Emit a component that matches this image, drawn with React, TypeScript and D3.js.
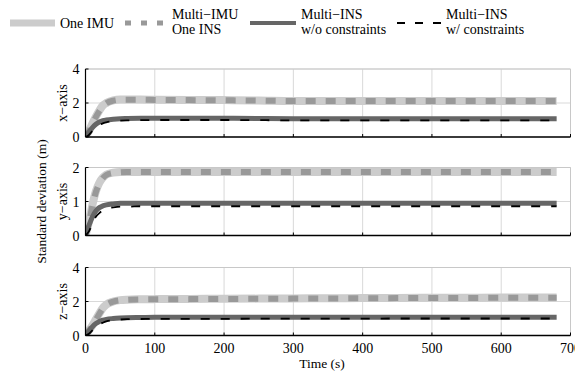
import React from "react";
import * as d3 from "d3";

const times = [0, 5, 10, 15, 20, 25, 30, 40, 50, 60, 80, 100, 150, 200, 250, 300, 350, 400, 450, 500, 550, 600, 650, 680];

const seriesNames = ["One IMU", "Multi-IMU One INS", "Multi-INS w/o constraints", "Multi-INS w/ constraints"];

// x-axis panel
const xOneIMU = [0, 0.35, 0.8, 1.2, 1.55, 1.85, 2.0, 2.15, 2.2, 2.2, 2.2, 2.19, 2.18, 2.17, 2.15, 2.12, 2.12, 2.12, 2.12, 2.12, 2.12, 2.12, 2.12, 2.12];
const xMultiIMU = [0, 0.33, 0.78, 1.18, 1.53, 1.83, 1.99, 2.14, 2.19, 2.19, 2.19, 2.18, 2.17, 2.16, 2.14, 2.12, 2.12, 2.12, 2.12, 2.12, 2.12, 2.12, 2.12, 2.12];
const xNoCons = [0, 0.3, 0.55, 0.75, 0.88, 0.96, 1.0, 1.05, 1.08, 1.09, 1.1, 1.1, 1.1, 1.1, 1.09, 1.08, 1.08, 1.08, 1.08, 1.08, 1.08, 1.08, 1.08, 1.08];
const xCons = [0, 0.12, 0.35, 0.55, 0.7, 0.8, 0.86, 0.93, 0.96, 0.98, 0.99, 1.0, 1.0, 1.0, 0.99, 0.98, 0.98, 0.98, 0.98, 0.98, 0.98, 0.98, 0.98, 0.98];

// y-axis panel
const yOneIMU = [0, 0.4, 0.9, 1.3, 1.55, 1.7, 1.79, 1.85, 1.87, 1.87, 1.87, 1.87, 1.87, 1.87, 1.87, 1.87, 1.87, 1.87, 1.87, 1.87, 1.87, 1.87, 1.87, 1.87];
const yMultiIMU = [0, 0.38, 0.88, 1.28, 1.53, 1.69, 1.78, 1.84, 1.86, 1.87, 1.87, 1.87, 1.87, 1.87, 1.87, 1.87, 1.87, 1.87, 1.87, 1.87, 1.87, 1.87, 1.87, 1.87];
const yNoCons = [0, 0.3, 0.55, 0.72, 0.82, 0.87, 0.9, 0.93, 0.95, 0.95, 0.95, 0.95, 0.95, 0.95, 0.95, 0.95, 0.95, 0.95, 0.95, 0.95, 0.95, 0.95, 0.95, 0.95];
const yCons = [0, 0.12, 0.35, 0.55, 0.66, 0.74, 0.79, 0.83, 0.85, 0.85, 0.86, 0.86, 0.86, 0.86, 0.86, 0.86, 0.86, 0.86, 0.86, 0.86, 0.86, 0.86, 0.86, 0.86];

// z-axis panel
const zOneIMU = [0, 0.3, 0.6, 0.95, 1.3, 1.62, 1.82, 2.0, 2.08, 2.11, 2.13, 2.14, 2.15, 2.16, 2.17, 2.18, 2.19, 2.2, 2.21, 2.22, 2.22, 2.23, 2.23, 2.23];
const zMultiIMU = [0, 0.29, 0.58, 0.93, 1.28, 1.6, 1.8, 1.99, 2.07, 2.1, 2.12, 2.13, 2.14, 2.15, 2.16, 2.17, 2.18, 2.19, 2.2, 2.21, 2.21, 2.22, 2.22, 2.22];
const zNoCons = [0, 0.28, 0.52, 0.7, 0.82, 0.9, 0.95, 1.0, 1.03, 1.05, 1.06, 1.07, 1.07, 1.07, 1.07, 1.07, 1.07, 1.08, 1.08, 1.08, 1.08, 1.08, 1.08, 1.08];
const zCons = [0, 0.1, 0.3, 0.5, 0.65, 0.75, 0.83, 0.9, 0.94, 0.96, 0.97, 0.98, 0.98, 0.98, 0.99, 0.99, 0.99, 0.99, 1.0, 1.0, 1.0, 1.0, 1.0, 1.0];

const panelLabels = ["x\u2212axis", "y\u2212axis", "z\u2212axis"];
const panelYMax = [4, 2, 4];
const panelYTicks = [[0, 2, 4], [0, 1, 2], [0, 2, 4]];
const xTicks = [0, 100, 200, 300, 400, 500, 600, 700];

const panelData = [
  [xOneIMU, xMultiIMU, xNoCons, xCons],
  [yOneIMU, yMultiIMU, yNoCons, yCons],
  [zOneIMU, zMultiIMU, zNoCons, zCons],
];

const FONT = "'Liberation Serif', 'Times New Roman', serif";
const W = 575;
const H = 374;
const left = 85.5;
const right = 570.5;
const panelTops = [69, 167.5, 267.5];
const panelH = 68;

const styles = [
  { stroke: "#cccccc", width: 8, dash: undefined as string | undefined },
  { stroke: "#999999", width: 6, dash: "10,10" },
  { stroke: "#666666", width: 5, dash: undefined },
  { stroke: "#000000", width: 1.8, dash: "9,11" },
];

const T: React.CSSProperties = { fontFamily: FONT };
const LFS = 14;
const TFS = 14;

export default function App() {
  const x = d3.scaleLinear().domain([0, 700]).range([left, right]);
  return (
    <svg width={W} height={H} style={{ position: "absolute", left: 0, top: 0, background: "#fff", fontFamily: FONT }}>
      <g>
        <line x1={10} x2={55} y1={23} y2={23} stroke={styles[0].stroke} strokeWidth={7} />
        <text style={T} x={60} y={28} fontSize={LFS}>One IMU</text>
        <line x1={125} x2={167} y1={23} y2={23} stroke={styles[1].stroke} strokeWidth={5} strokeDasharray="6,10" />
        <text style={T} x={172} y={19} fontSize={LFS}>Multi{"\u2212"}IMU</text>
        <text style={T} x={172} y={34} fontSize={LFS}>One INS</text>
        <line x1={250} x2={296} y1={23} y2={23} stroke={styles[2].stroke} strokeWidth={4} />
        <text style={T} x={301} y={19} fontSize={LFS}>Multi{"\u2212"}INS</text>
        <text style={T} x={301} y={34} fontSize={LFS}>w/o constraints</text>
        <line x1={397} x2={442} y1={23} y2={23} stroke="#000" strokeWidth={1.8} strokeDasharray="8,10" />
        <text style={T} x={446} y={19} fontSize={LFS}>Multi{"\u2212"}INS</text>
        <text style={T} x={446} y={34} fontSize={LFS}>w/ constraints</text>
      </g>

      {panelData.map((series, pi) => {
        const top = panelTops[pi];
        const bottom = top + panelH;
        const y = d3.scaleLinear().domain([0, panelYMax[pi]]).range([bottom, top]);
        const clipId = `clip${pi}`;
        return (
          <g key={pi}>
            <defs>
              <clipPath id={clipId}>
                <rect x={left} y={top - 5} width={right - left} height={panelH + 5} />
              </clipPath>
            </defs>
            {xTicks.map((t) => (
              <line key={"gx" + t} x1={x(t)} x2={x(t)} y1={top} y2={bottom} stroke="#d9d9d9" strokeWidth={1} />
            ))}
            {panelYTicks[pi].map((t) => (
              <line key={"gy" + t} x1={left} x2={right} y1={y(t)} y2={y(t)} stroke="#d9d9d9" strokeWidth={1} />
            ))}
            <line x1={left} x2={right} y1={top} y2={top} stroke="#c8c8c8" strokeWidth={1} />
            <line x1={right} x2={right} y1={top} y2={bottom} stroke="#c8c8c8" strokeWidth={1} />
            <g clipPath={`url(#${clipId})`}>
              {series.map((vals, si) => {
                const line = d3
                  .line<number>()
                  .x((_, i) => x(times[i]))
                  .y((v) => y(v))
                  .curve(d3.curveMonotoneX);
                const st = styles[si];
                return (
                  <path
                    key={seriesNames[si]}
                    d={line(vals) || ""}
                    fill="none"
                    stroke={st.stroke}
                    strokeWidth={st.width}
                    strokeDasharray={st.dash}
                    strokeLinejoin="round"
                  />
                );
              })}
            </g>
            <line x1={left} x2={left} y1={top} y2={bottom} stroke="#000" strokeWidth={1.2} />
            <line x1={left} x2={right} y1={bottom} y2={bottom} stroke="#000" strokeWidth={1.5} />
            {panelYTicks[pi].map((t) => (
              <g key={"yt" + t}>
                <line x1={left} x2={left + 3} y1={y(t)} y2={y(t)} stroke="#000" strokeWidth={1} />
                <text style={T} x={left - 6} y={y(t) + 5} fontSize={TFS} textAnchor="end">{t}</text>
              </g>
            ))}
            {xTicks.map((t) => (
              <line key={"xt" + t} x1={x(t)} x2={x(t)} y1={bottom} y2={bottom - 3} stroke="#000" strokeWidth={1} />
            ))}
            <text
              style={T}
              transform={`translate(67,${(top + bottom) / 2}) rotate(-90)`}
              fontSize={TFS}
              textAnchor="middle"
            >
              {panelLabels[pi]}
            </text>
          </g>
        );
      })}

      {xTicks.map((t) => (
        <text style={T} key={"xl" + t} x={x(t)} y={353} fontSize={TFS} textAnchor="middle">{t}</text>
      ))}
      <text style={T} x={322} y={368} fontSize={13.5} textAnchor="middle">Time (s)</text>
      <text style={T} transform={`translate(46,${panelTops[1] + panelH / 2}) rotate(-90)`} fontSize={13.5} textAnchor="middle">
        Standard deviation (m)
      </text>
    </svg>
  );
}
